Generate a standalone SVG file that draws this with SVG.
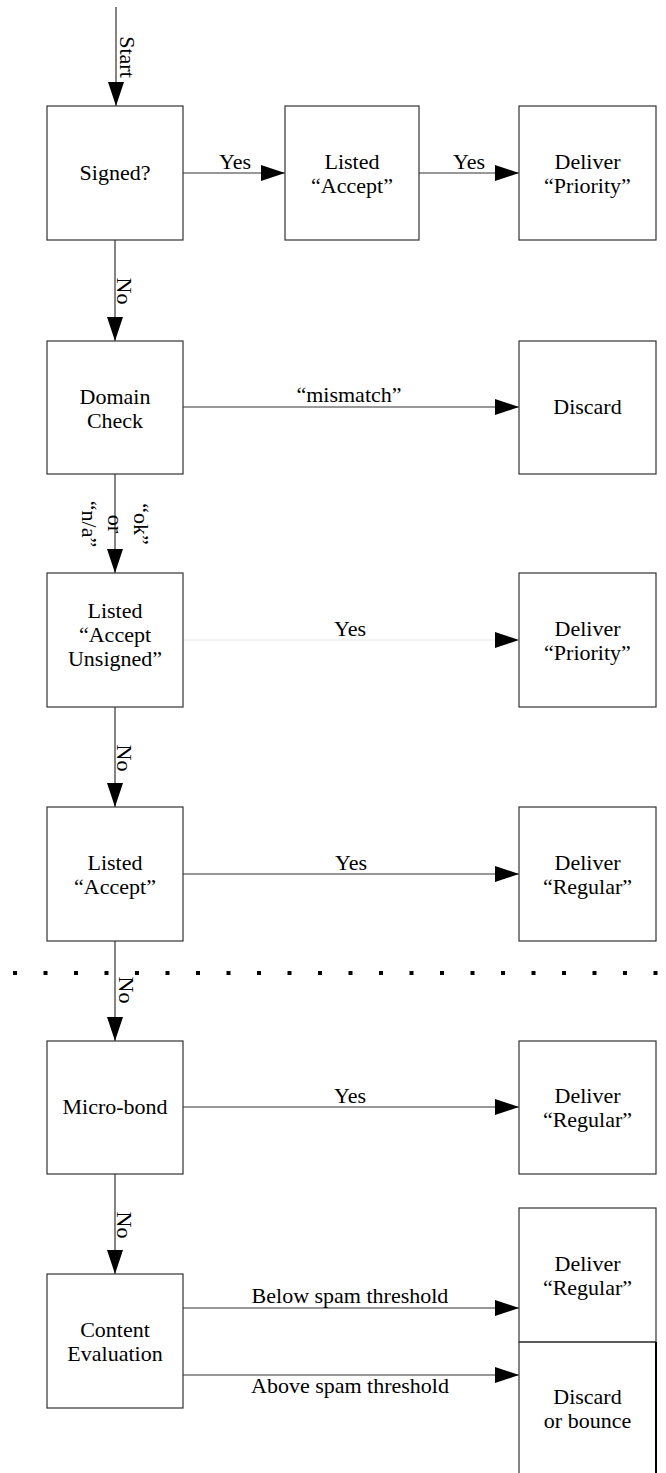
<svg xmlns="http://www.w3.org/2000/svg" width="666" height="1473" viewBox="0 0 666 1473">
<defs>
<marker id="ah" markerUnits="userSpaceOnUse" markerWidth="24" markerHeight="16" refX="24" refY="8" orient="auto">
<path d="M0,0 L24,8 L0,16 Z" fill="#000"/>
</marker>
<style>
.box{fill:#fff;stroke:#333;stroke-width:1.2}
.ln{fill:none;stroke:#333;stroke-width:1.2}
.faint{fill:none;stroke:#e6e6e6;stroke-width:1}
.c{text-anchor:middle}
</style>
</defs>
<rect width="666" height="1473" fill="#fff"/>

<g font-family="'Liberation Serif', 'Times New Roman', serif" font-size="22" fill="#000">
<g id="connectors">
<line class="ln" x1="116" y1="7" x2="116" y2="106" marker-end="url(#ah)"/>
<text class="c" transform="translate(120,57) rotate(90)">Start</text>
<line class="ln" x1="183" y1="173" x2="285" y2="173" marker-end="url(#ah)"/>
<text class="c" x="235" y="169">Yes</text>
<line class="ln" x1="419" y1="173" x2="519" y2="173" marker-end="url(#ah)"/>
<text class="c" x="469" y="169">Yes</text>
<line class="ln" x1="115" y1="240" x2="115" y2="341" marker-end="url(#ah)"/>
<text class="c" transform="translate(117,291) rotate(90)">No</text>
<line class="ln" x1="183" y1="407" x2="519" y2="407" marker-end="url(#ah)"/>
<text class="c" x="349" y="402">“mismatch”</text>
<line class="ln" x1="115" y1="474" x2="115" y2="573" marker-end="url(#ah)"/>
<text class="c" transform="translate(134,524) rotate(90)"><tspan x="0" y="0">“ok”</tspan><tspan x="0" y="26">or</tspan><tspan x="0" y="52">“n/a”</tspan></text>
<line class="faint" x1="183" y1="640" x2="519" y2="640" marker-end="url(#ah)"/>
<text class="c" x="350" y="636">Yes</text>
<line class="ln" x1="115" y1="707" x2="115" y2="807" marker-end="url(#ah)"/>
<text class="c" transform="translate(117,758) rotate(90)">No</text>
<line class="ln" x1="183" y1="874" x2="519" y2="874" marker-end="url(#ah)"/>
<text class="c" x="351" y="870">Yes</text>
<line class="ln" x1="115" y1="941" x2="115" y2="1041" marker-end="url(#ah)"/>
<text class="c" transform="translate(119,990) rotate(90)">No</text>
<line class="ln" x1="183" y1="1107" x2="519" y2="1107" marker-end="url(#ah)"/>
<text class="c" x="350" y="1103">Yes</text>
<line class="ln" x1="115" y1="1174" x2="115" y2="1274" marker-end="url(#ah)"/>
<text class="c" transform="translate(117,1225) rotate(90)">No</text>
<line class="ln" x1="183" y1="1308" x2="519" y2="1308" marker-end="url(#ah)"/>
<text class="c" x="350" y="1303">Below spam threshold</text>
<line class="ln" x1="183" y1="1375" x2="519" y2="1375" marker-end="url(#ah)"/>
<text class="c" x="350" y="1393">Above spam threshold</text>
</g>

<line x1="13" y1="973" x2="660" y2="973" stroke="#000" stroke-width="4" stroke-dasharray="4 26.5"/>

<g id="signed"><rect class="box" x="47" y="106" width="136" height="134"/><text class="c" x="115" y="180">Signed?</text></g>
<g id="listed-accept-1"><rect class="box" x="285" y="106" width="134" height="134"/><text class="c" x="352" y="169">Listed</text><text class="c" x="352" y="193">“Accept”</text></g>
<g id="deliver-priority-1"><rect class="box" x="519" y="106" width="137" height="134"/><text class="c" x="587.5" y="169">Deliver</text><text class="c" x="587.5" y="193">“Priority”</text></g>

<g id="domain-check"><rect class="box" x="47" y="341" width="136" height="133"/><text class="c" x="115" y="404">Domain</text><text class="c" x="115" y="428">Check</text></g>
<g id="discard"><rect class="box" x="519" y="341" width="137" height="133"/><text class="c" x="587.5" y="414">Discard</text></g>

<g id="listed-accept-unsigned"><rect class="box" x="47" y="573" width="136" height="134"/><text class="c" x="115" y="618">Listed</text><text class="c" x="115" y="642">“Accept</text><text class="c" x="115" y="666">Unsigned”</text></g>
<g id="deliver-priority-2"><rect class="box" x="519" y="573" width="137" height="134"/><text class="c" x="587.5" y="636">Deliver</text><text class="c" x="587.5" y="660">“Priority”</text></g>

<g id="listed-accept-2"><rect class="box" x="47" y="807" width="136" height="134"/><text class="c" x="115" y="870">Listed</text><text class="c" x="115" y="894">“Accept”</text></g>
<g id="deliver-regular-1"><rect class="box" x="519" y="807" width="137" height="134"/><text class="c" x="587.5" y="870">Deliver</text><text class="c" x="587.5" y="894">“Regular”</text></g>

<g id="micro-bond"><rect class="box" x="47" y="1041" width="136" height="133"/><text class="c" x="115" y="1114">Micro-bond</text></g>
<g id="deliver-regular-2"><rect class="box" x="519" y="1041" width="137" height="133"/><text class="c" x="587.5" y="1103">Deliver</text><text class="c" x="587.5" y="1127">“Regular”</text></g>

<g id="content-evaluation"><rect class="box" x="47" y="1274" width="136" height="134"/><text class="c" x="115" y="1337">Content</text><text class="c" x="115" y="1361">Evaluation</text></g>
<g id="deliver-regular-3"><rect class="box" x="519" y="1208" width="137" height="134"/><text class="c" x="587.5" y="1271">Deliver</text><text class="c" x="587.5" y="1295">“Regular”</text></g>
<g id="discard-or-bounce"><path class="ln" d="M519,1473 V1342 H656"/><line x1="656" y1="1342" x2="656" y2="1473" stroke="#000" stroke-width="2"/><text class="c" x="587.5" y="1404">Discard</text><text class="c" x="587.5" y="1428">or bounce</text></g>
</g>
</svg>
